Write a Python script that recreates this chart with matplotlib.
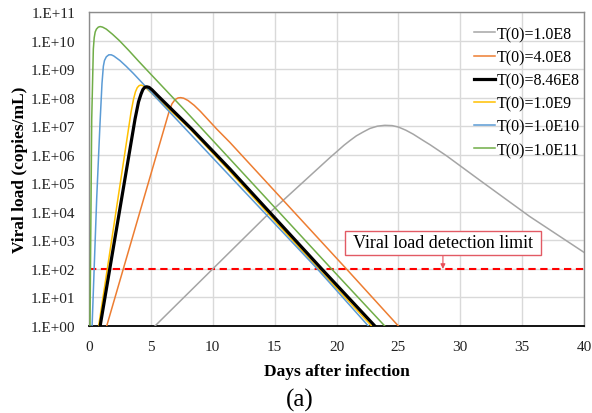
import numpy as np
import matplotlib
matplotlib.use("Agg")
import matplotlib.pyplot as plt

plt.rcParams["font.family"] = ["Liberation Serif", "DejaVu Serif"]

# Viral load trajectories: day after infection and log10(copies/mL)
labels = ["T(0)=1.0E8", "T(0)=4.0E8", "T(0)=8.46E8",
          "T(0)=1.0E9", "T(0)=1.0E10", "T(0)=1.0E11"]
colors = ["#A5A5A5", "#ED7D31", "#000000", "#FFC000", "#5B9BD5", "#70AD47"]
widths = [1.1, 1.1, 2.3, 1.1, 1.1, 1.1]

days_t1e8 = [5.33, 10.0, 14.6, 19.47, 20.0, 20.6, 21.1, 21.6, 22.17, 22.7,
             23.3, 23.9, 24.5, 25.0, 25.6, 26.2, 27.0, 27.56, 28.9, 31.6,
             35.6, 40.0]
logv_t1e8 = [0.0, 2.0, 3.97, 5.9, 6.1, 6.33, 6.5, 6.66, 6.8, 6.92,
             7.0, 7.03, 7.02, 6.97, 6.86, 6.72, 6.5, 6.35, 5.96, 5.1,
             3.84, 2.58]

days_t4e8 = [1.43, 6.45, 6.7, 6.95, 7.2, 7.4, 7.65, 8.0, 8.5, 9.0,
             10.32, 11.39, 20.8, 25.0]
logv_t4e8 = [0.0, 7.48, 7.78, 7.93, 7.99, 8.0, 7.98, 7.9, 7.73, 7.52,
             6.9, 6.43, 2.0, 0.0]

days_t846e8 = [0.9, 3.72, 4.0, 4.2, 4.35, 4.5, 4.66, 4.85, 5.1, 5.6,
               8.3, 11.39, 18.8, 23.1]
logv_t846e8 = [0.0, 7.25, 7.85, 8.12, 8.28, 8.36, 8.38, 8.36, 8.27, 8.05,
               6.9, 5.5, 2.0, 0.0]

days_t1e9 = [0.78, 3.4, 3.6, 3.75, 3.9, 4.05, 4.2, 4.4, 4.7, 5.2,
             8.1, 11.2, 18.55, 22.84]
logv_t1e9 = [0.0, 7.5, 7.95, 8.2, 8.35, 8.42, 8.44, 8.41, 8.3, 8.1,
             6.93, 5.5, 2.0, 0.0]

days_t1e10 = [0.25, 0.62, 0.89, 1.05, 1.16, 1.25, 1.4, 1.6, 1.8, 2.0,
              2.5, 3.0, 3.58, 4.66, 11.39, 18.45, 22.57]
logv_t1e10 = [0.0, 4.45, 7.1, 8.5, 9.1, 9.3, 9.43, 9.5, 9.5, 9.46,
              9.3, 9.1, 8.85, 8.35, 5.25, 2.0, 0.0]

days_t1e11 = [0.08, 0.22, 0.35, 0.42, 0.5, 0.6, 0.75, 0.9, 1.1, 1.4,
              1.9, 2.45, 3.2, 4.0, 4.93, 7.76, 11.39, 19.6, 23.9]
logv_t1e11 = [0.0, 7.25, 9.7, 10.1, 10.3, 10.4, 10.47, 10.49, 10.47, 10.4,
              10.22, 10.0, 9.66, 9.28, 8.85, 7.55, 5.85, 2.0, 0.0]

series_days = [days_t1e8, days_t4e8, days_t846e8, days_t1e9, days_t1e10, days_t1e11]
series_logv = [logv_t1e8, logv_t4e8, logv_t846e8, logv_t1e9, logv_t1e10, logv_t1e11]

detection_limit = 1e2
x_ticks = [0, 5, 10, 15, 20, 25, 30, 35, 40]
y_exponents = list(range(0, 12))
y_ticklabels = ["1.E+%02d" % e for e in y_exponents]

fig = plt.figure(figsize=(5.92, 4.14), dpi=100)
ax = fig.add_axes([89 / 592, 87 / 414, 495 / 592, 314 / 414])

draw_order = [0, 1, 3, 4, 5, 2]
handles = {}
for i in draw_order:
    (h,) = ax.plot(series_days[i], 10 ** np.array(series_logv[i]),
                   color=colors[i], lw=widths[i], label=labels[i],
                   solid_joinstyle="round", zorder=3 + (i == 2))
    handles[i] = h

ax.axhline(detection_limit, color="#FF0000", lw=1.5, ls=(0, (3.5, 2.2)), zorder=2)

ax.set_yscale("log")
ax.set_xlim(0, 40)
ax.set_ylim(1, 1e11)
ax.set_xticks(x_ticks)
ax.set_yticks([10.0 ** e for e in y_exponents])
ax.set_yticklabels(y_ticklabels)
ax.yaxis.set_minor_locator(matplotlib.ticker.NullLocator())
ax.tick_params(axis="both", length=0, labelsize=11, colors="#222222")
ax.tick_params(axis="y", pad=10)
ax.tick_params(axis="x", pad=10)
ax.grid(True, color="#D9D9D9", lw=1.0, zorder=0)
ax.set_axisbelow(True)
for side in ["top", "left", "right"]:
    ax.spines[side].set_color("#8C8C8C")
    ax.spines[side].set_linewidth(1.0)
ax.spines["bottom"].set_color("#000000")
ax.spines["bottom"].set_linewidth(1.3)

ax.set_ylabel("Viral load (copies/mL)", fontsize=12.5, fontweight="bold", labelpad=2)
ax.set_xlabel("Days after infection", fontsize=12.5, fontweight="bold", labelpad=7)

ax.annotate(" Viral load detection limit ", xy=(28.6, detection_limit),
            xytext=(28.6, 10 ** 2.92), textcoords="data",
            ha="center", va="center", fontsize=13,
            bbox=dict(boxstyle="square,pad=0.2", fc="white", ec="#E25A64", lw=1.0),
            arrowprops=dict(arrowstyle="-|>", color="#E8505A", lw=0.8,
                            mutation_scale=7, shrinkA=0, shrinkB=0),
            zorder=5)

leg = ax.legend([handles[i] for i in range(6)], labels,
                loc="upper left", bbox_to_anchor=(474 / 592, 387 / 414),
                bbox_transform=fig.transFigure, frameon=False,
                fontsize=11.5, handlelength=1.3, handletextpad=0.1,
                labelspacing=0.45, borderpad=0, borderaxespad=0)

fig.text(300 / 592, 14 / 414, "(a)", ha="center", va="center", fontsize=18)

fig.savefig("out.png", dpi=100)
